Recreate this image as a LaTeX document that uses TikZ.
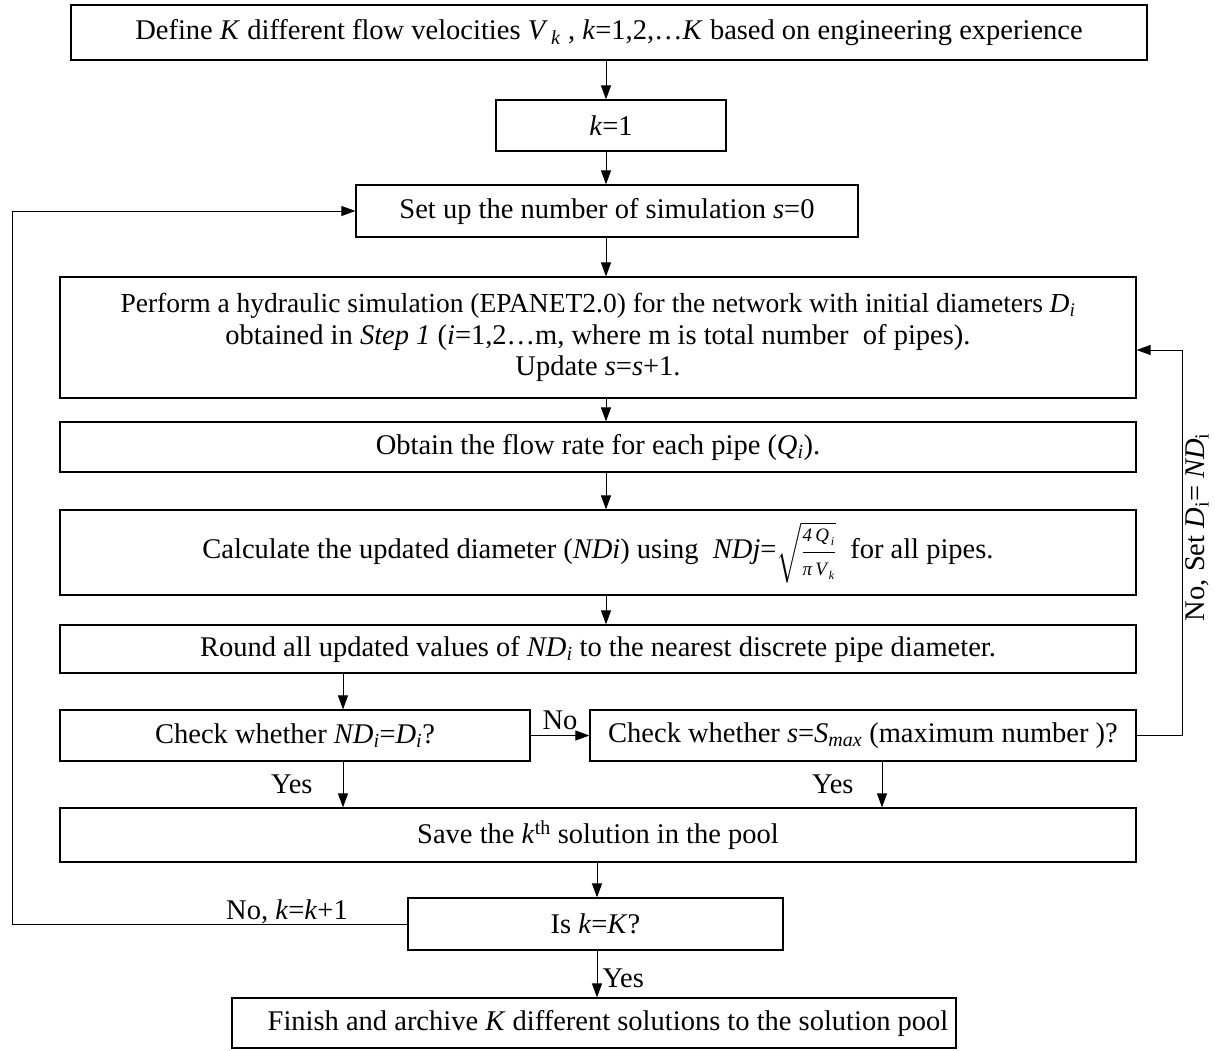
\documentclass[tikz,border=0pt]{standalone}
\usepackage{amsmath}
\usepackage{fontspec}
\setmainfont{Liberation Serif}
\usetikzlibrary{arrows.meta}
\newcommand\fs{\fontsize{28.5}{31.5}\selectfont}
\newcommand\fsl{\fontsize{28.5}{32}\selectfont}
\newcommand\iv[1]{\textit{#1}}
\newcommand\sm[1]{\text{\fontsize{19}{19}\selectfont\itshape #1}}
\newcommand\ssm[1]{\text{\fontsize{12}{12}\selectfont\itshape #1}}
\begin{document}
\begin{tikzpicture}[x=1pt,y=-1pt,
  box/.style={draw, line width=1.2pt, inner sep=0pt, font=\fs, align=center},
  arr/.style={-{Triangle[length=14pt,width=10pt]}, line width=1pt},
  ln/.style={line width=1pt},
  lbl/.style={font=\fs, inner sep=0pt}]
\useasboundingbox (0,0) rectangle (1215,1050);

\node[box, minimum width=1076pt, minimum height=55pt] (b1) at (609,32.5)
  {Define \iv{K} different flow velocities \iv{V}\textsubscript{\,\iv{k}} , \iv{k}=1,2,\dots\iv{K} based on engineering experience};
\node[box, minimum width=230pt, minimum height=51pt] (k1) at (611,125.5) {\iv{k}=1};
\node[box, minimum width=502pt, minimum height=52pt] (set) at (607,211) {Set up the number of simulation \iv{s}=0};
\node[box, minimum width=1076pt, minimum height=121pt] (perf) at (598,337.5)
  {{\fontsize{27.5}{31.5}\selectfont Perform a hydraulic simulation (EPANET2.0) for the network with initial diameters \iv{D\textsubscript{i}}}\\
   obtained in \iv{Step 1} (\iv{i}=1,2\dots m, where m is total number \ of pipes).\\
   Update \iv{s}=\iv{s}+1.};
\node[box, minimum width=1076pt, minimum height=50pt] (obt) at (598,447)
  {Obtain the flow rate for each pipe (\iv{Q\textsubscript{i}}).};
\node[box, minimum width=1076pt, minimum height=85pt] (calc) at (598,552.5)
  {Calculate the updated diameter (\iv{NDi}) using\ \ \iv{NDj}=$\sqrt{\dfrac{\sm{4\,Q}_{\ssm{\,i}}}{\sm{π\,V}_{\ssm{\,k}}}}$\ \ for all pipes.};
\node[box, minimum width=1076pt, minimum height=48pt] (round) at (598,649)
  {Round all updated values of \iv{ND\textsubscript{i}} to the nearest discrete pipe diameter.};
\node[box, minimum width=470pt, minimum height=51pt] (cnd) at (295,735.5)
  {Check whether \iv{ND\textsubscript{i}}=\iv{D\textsubscript{i}}?};
\node[box, minimum width=546pt, minimum height=51pt] (cs) at (863,735.5)
  {Check whether \iv{s}=\iv{S}\textsubscript{\iv{max}} (maximum number )?};
\node[box, minimum width=1076pt, minimum height=54pt] (save) at (598,835)
  {Save the \iv{k}\textsuperscript{th} solution in the pool};
\node[box, minimum width=375pt, minimum height=52pt] (isk) at (595.5,924) {Is \iv{k}=\iv{K}?};
\node[box, minimum width=724pt, minimum height=50pt] (fin) at (594,1023)
  {\hspace*{28pt}Finish and archive \iv{K} different solutions to the solution pool};

\coordinate (xm) at (606,0);
\coordinate (xa) at (343,0);
\coordinate (xb) at (882,0);
\coordinate (xc) at (597,0);
\coordinate (xl) at (12,0);
\coordinate (xr) at (1182,0);
\coordinate (yp) at (0,350);

\draw[arr] (b1.south -| xm) -- (k1.north -| xm);
\draw[arr] (k1.south -| xm) -- (set.north -| xm);
\draw[arr] (set.south -| xm) -- (perf.north -| xm);
\draw[arr] (perf.south -| xm) -- (obt.north -| xm);
\draw[arr] (obt.south -| xm) -- (calc.north -| xm);
\draw[arr] (calc.south -| xm) -- (round.north -| xm);
\draw[arr] (round.south -| xa) -- (cnd.north -| xa);
\draw[arr] (cnd) -- (cs) node[lbl, midway, above=5pt] {No};
\draw[arr] (cnd.south -| xa) -- (save.north -| xa) node[lbl, midway, left=30pt] {Yes};
\draw[arr] (cs.south -| xb) -- (save.north -| xb) node[lbl, midway, left=28pt] {Yes};
\draw[arr] (save.south -| xc) -- (isk.north -| xc);
\draw[arr] (isk.south -| xc) -- (fin.north -| xc) node[lbl, pos=0.6, right=5pt] {Yes};
\draw[ln, arr] (cs.east) -| (xr |- yp) -- (perf.east |- yp);
\draw[ln, arr] (isk.west) -| (xl |- set.west) -- (set.west);
\node[lbl] (nok) at (287,912) {No, \iv{k}=\iv{k}+1};
\node[lbl, rotate=90, font=\fsl, anchor=base] (nod) at (1204,527) {No, Set \iv{D}\textsubscript{i}= \iv{ND}\textsubscript{i}};
\end{tikzpicture}
\end{document}
